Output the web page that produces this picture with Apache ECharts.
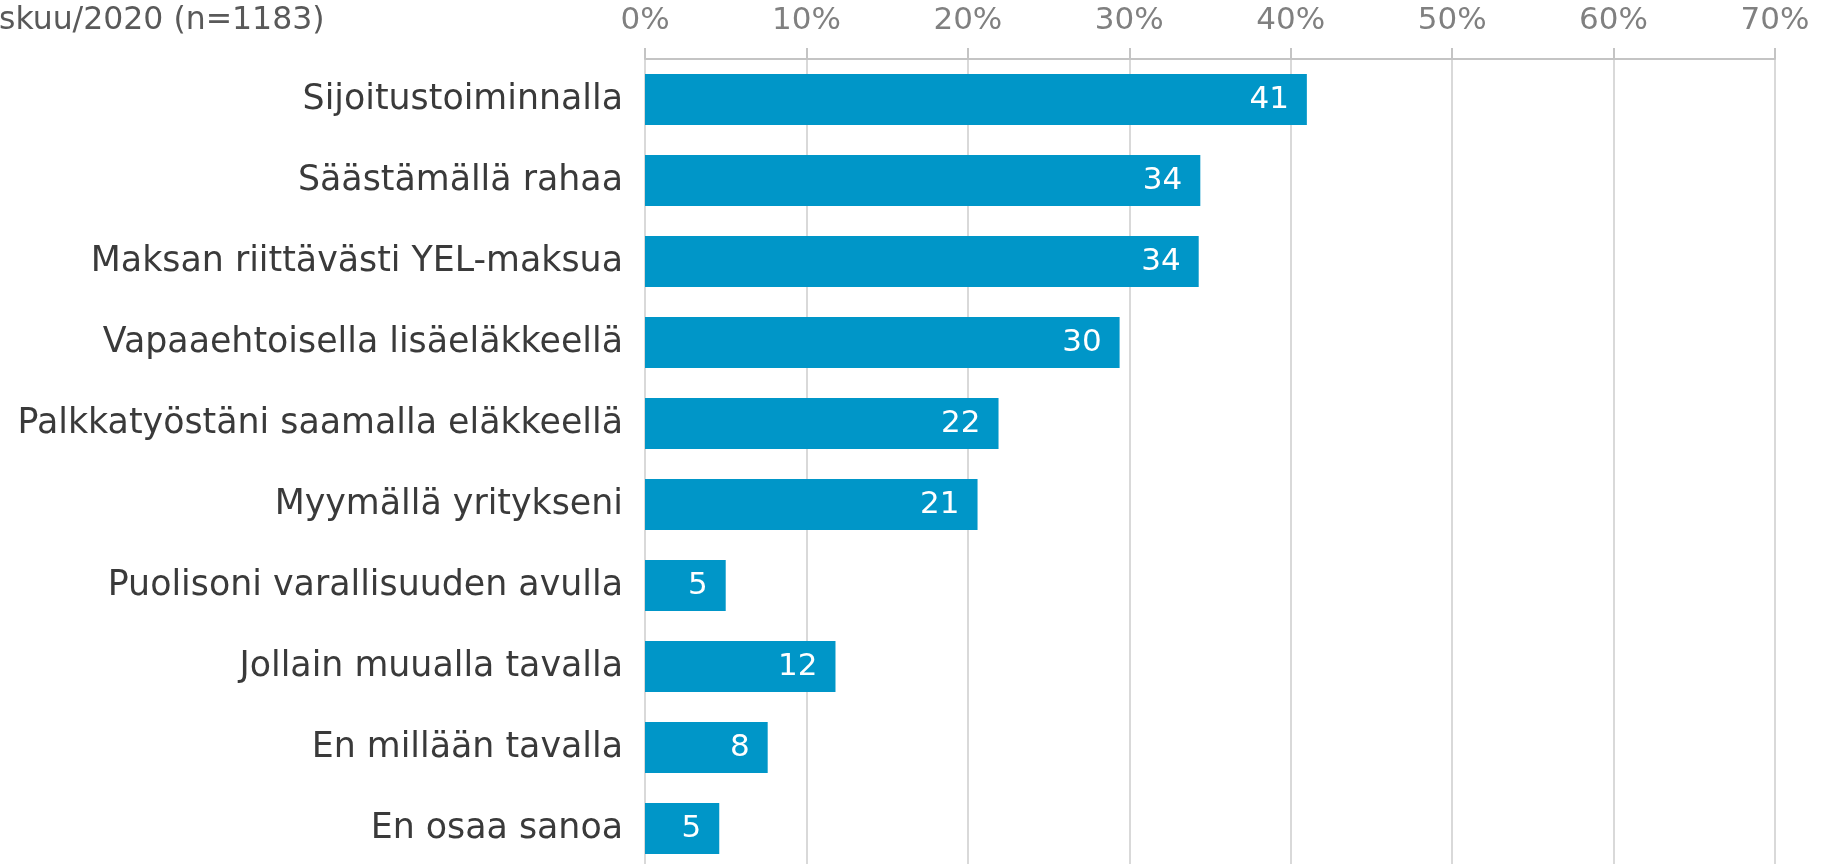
<!DOCTYPE html>
<html>
<head>
<meta charset="utf-8">
<script src="https://cdn.jsdelivr.net/npm/echarts@6/dist/echarts.min.js"></script>
<style>
html,body{margin:0;padding:0;background:#fff;}
#chart{width:1824px;height:864px;}
</style>
</head>
<body>
<div id="chart"></div>
<script>
const categories = [
  "Sijoitustoiminnalla",
  "Säästämällä rahaa",
  "Maksan riittävästi YEL-maksua",
  "Vapaaehtoisella lisäeläkkeellä",
  "Palkkatyöstäni saamalla eläkkeellä",
  "Myymällä yritykseni",
  "Puolisoni varallisuuden avulla",
  "Jollain muualla tavalla",
  "En millään tavalla",
  "En osaa sanoa"
];
const values = [41.0, 34.4, 34.3, 29.4, 21.9, 20.6, 5.0, 11.8, 7.6, 4.6];
const valueLabels = ["41", "34", "34", "30", "22", "21", "5", "12", "8", "5"];
const titleText = "skuu/2020 (n=1183)";
const axisMin = 0, axisMax = 70, axisStep = 10;

const font = "DejaVu Sans";
const chart = echarts.init(document.getElementById('chart'));
chart.setOption({
  animation: false,
  backgroundColor: '#ffffff',
  textStyle: { fontFamily: font },
  graphic: [{
    type: 'text',
    left: -1,
    top: 5,
    style: { text: titleText, fill: '#595959', font: '31.5px "DejaVu Sans"' }
  }],
  grid: { left: 645, right: 49, top: 59, height: 810, containLabel: false, outerBoundsMode: 'none' },
  xAxis: {
    type: 'value',
    position: 'top',
    offset: 0,
    min: axisMin, max: axisMax, interval: axisStep,
    axisLine: { show: true, lineStyle: { color: '#c4c4c4', width: 2 } },
    axisTick: { show: true, length: 11, lineStyle: { color: '#c4c4c4', width: 2 } },
    axisLabel: { color: '#808080', fontSize: 31, fontFamily: font, margin: 23, formatter: v => v + '%' },
    splitLine: { show: true, lineStyle: { color: '#d9d9d9', width: 2 } }
  },
  yAxis: {
    type: 'category',
    inverse: true,
    data: categories,
    axisLine: { show: false },
    axisTick: { show: false },
    axisLabel: { color: '#3a3a3a', fontSize: 34.8, fontFamily: font, margin: 22 }
  },
  series: [{
    type: 'bar',
    data: values,
    barWidth: 51,
    itemStyle: { color: '#0096c8' },
    label: {
      show: true,
      position: 'insideRight',
      distance: 18,
      color: '#ffffff',
      fontSize: 31,
      fontFamily: font,
      formatter: p => valueLabels[p.dataIndex]
    }
  }]
});
</script>
</body>
</html>
